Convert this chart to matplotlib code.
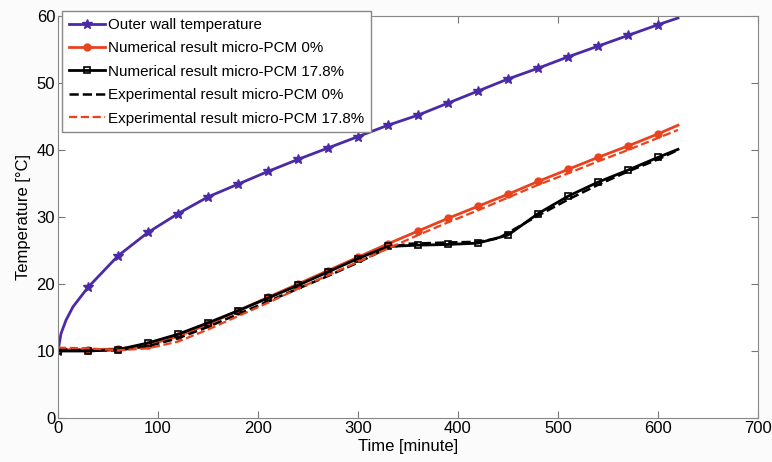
import matplotlib
matplotlib.use("Agg")
import matplotlib.pyplot as plt

plt.rcParams['font.family'] = ['Liberation Sans', 'DejaVu Sans']

t_outer = [0, 3, 8, 15, 30, 60, 90, 120, 150, 180, 210, 240, 270, 300, 330, 360,
           390, 420, 450, 480, 510, 540, 570, 600, 620]
outer_wall = [10, 12.6, 14.6, 16.6, 19.5, 24.2, 27.7, 30.5, 33.0, 34.9, 36.8, 38.6,
              40.3, 42.0, 43.7, 45.2, 47.0, 48.8, 50.6, 52.2, 53.9, 55.5, 57.1, 58.7, 59.7]

t = [0, 30, 60, 90, 120, 150, 180, 210, 240, 270, 300, 330, 360, 390, 420, 450,
     480, 510, 540, 570, 600, 620]
num_0 = [10.2, 10.2, 10.3, 10.9, 12.2, 14.0, 16.0, 18.0, 20.0, 22.0, 24.0, 26.0,
         27.9, 29.8, 31.6, 33.4, 35.3, 37.1, 38.9, 40.6, 42.4, 43.7]
num_178 = [10.0, 10.0, 10.2, 11.2, 12.5, 14.2, 16.0, 17.9, 19.8, 21.8, 23.8, 25.6,
           25.8, 25.9, 26.1, 27.3, 30.5, 33.1, 35.2, 37.0, 38.9, 40.1]

t_exp0 = [0, 30, 60, 90, 120, 150, 180, 210, 240, 270, 300, 330, 350, 390, 420,
          440, 460, 480, 510, 540, 570, 600, 620]
exp_0 = [10.3, 10.1, 10.1, 10.7, 11.9, 13.6, 15.5, 17.4, 19.3, 21.2, 23.2, 25.4,
         26.0, 26.2, 26.3, 26.8, 28.5, 30.2, 32.6, 34.8, 36.8, 38.6, 40.0]
exp_178 = [10.5, 10.4, 10.1, 10.4, 11.4, 13.2, 15.2, 17.2, 19.3, 21.3, 23.3, 25.3,
           27.3, 29.2, 31.0, 32.9, 34.8, 36.5, 38.3, 40.0, 41.8, 43.0]

purple = '#4a2aa6'
red = '#e8431e'

fig = plt.figure(figsize=(7.72, 4.62), dpi=100, facecolor='#fbfbfb')
ax = fig.add_axes([58 / 772, 1 - 418 / 462, 700 / 772, 402 / 462])

ax.plot(t_outer, outer_wall, color=purple, lw=2, marker='*', ms=7,
        markevery=[0] + list(range(4, 24)), label='Outer wall temperature')
ax.plot(t, num_0, color=red, lw=2, marker='o', ms=5, markevery=list(range(21)),
        label='Numerical result micro-PCM 0%')
ax.plot(t, num_178, color='black', lw=2, marker='s', ms=5, mfc='none', mew=1.2,
        markevery=list(range(21)), label='Numerical result micro-PCM 17.8%')
ax.plot(t_exp0, exp_0, color='black', lw=1.8, ls='--',
        label='Experimental result micro-PCM 0%')
ax.plot(t, exp_178, color=red, lw=1.6, ls='--',
        label='Experimental result micro-PCM 17.8%')

ax.set_xlim(0, 700)
ax.set_ylim(0, 60)
ax.set_xticks(range(0, 701, 100))
ax.set_yticks(range(0, 61, 10))
ax.tick_params(direction='in', top=True, right=True, labelsize=12, length=5,
               color='#777777', pad=2)
for s in ax.spines.values():
    s.set_color('#888888')
ax.set_facecolor('white')
ax.set_xlabel('Time [minute]', fontsize=12, labelpad=2)
ax.set_ylabel('Temperature [°C]', fontsize=12, labelpad=4)

leg = ax.legend(loc='upper left', bbox_to_anchor=(4 / 700, 1.012), fontsize=10.9,
                handlelength=2.4, handletextpad=0.2, borderpad=0.45,
                labelspacing=0.62, fancybox=False, framealpha=1, borderaxespad=0)
leg.get_frame().set_edgecolor('#888888')

fig.savefig('out.png', dpi=100, facecolor=fig.get_facecolor())
